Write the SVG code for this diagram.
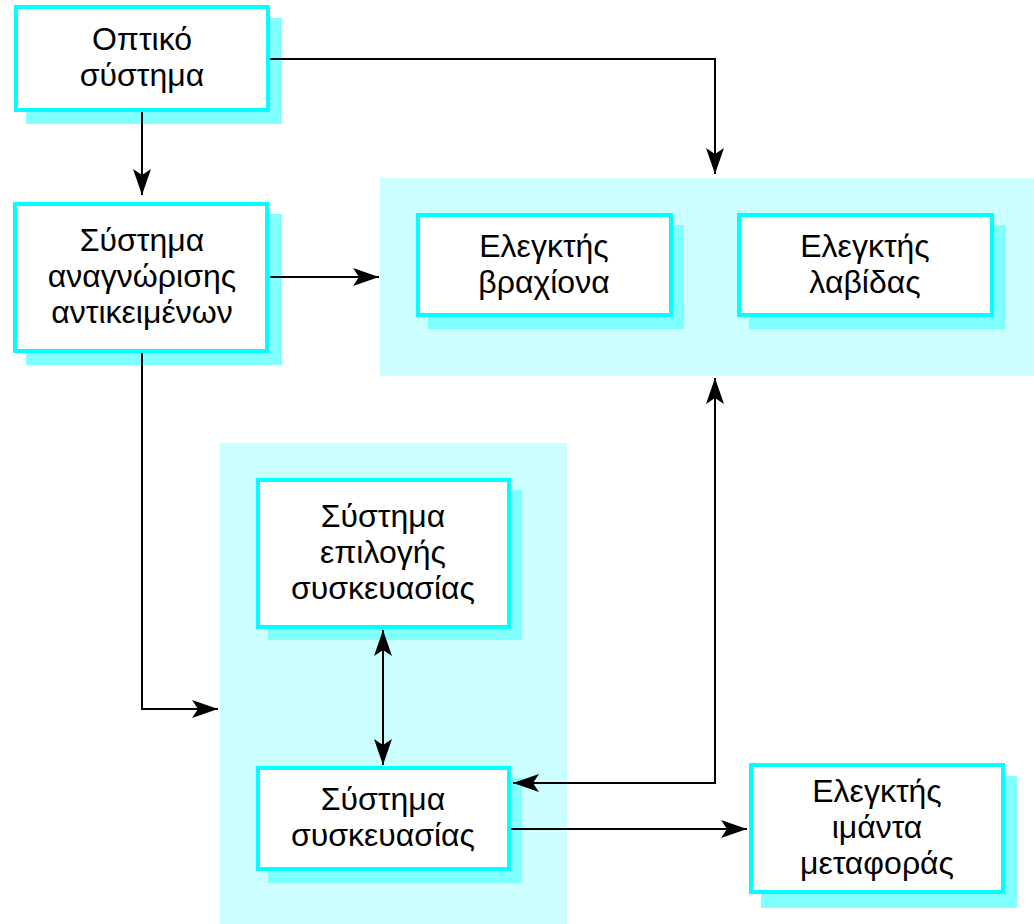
<svg xmlns="http://www.w3.org/2000/svg" width="1034" height="924" viewBox="0 0 1034 924">
<style>
.grp{fill:#CCFFFF;stroke:none}
.sh{fill:#80FFFF;stroke:none}
.bx{fill:#FFFFFF;stroke:#00FFFF;stroke-width:4}
.t{font-family:"Liberation Sans",Arial,sans-serif;font-size:32px;fill:#000;text-anchor:middle}
.c{fill:none;stroke:#000;stroke-width:2}
</style>
<defs>
<marker id="ah" markerUnits="userSpaceOnUse" markerWidth="27" markerHeight="18" refX="26" refY="9" orient="auto-start-reverse" viewBox="0 0 27 18">
<path d="M0,0 L26,9 L0,18 L6,9 z" fill="#000"/>
</marker>
</defs>
<rect class="grp" x="380" y="178" width="654" height="198"/>
<rect class="grp" x="220" y="443" width="347" height="481"/>

<g id="n-optiko">
<rect class="sh" x="26" y="18" width="256" height="106"/>
<rect class="bx" x="16" y="7" width="252" height="103"/>
<text class="t" x="142" y="50">Οπτικό</text>
<text class="t" x="142" y="86">σύστημα</text>
</g>

<g id="n-anagnorisi">
<rect class="sh" x="26" y="214" width="256" height="151"/>
<rect class="bx" x="15" y="204" width="252" height="147"/>
<text class="t" x="142" y="251">Σύστημα</text>
<text class="t" x="142" y="287">αναγνώρισης</text>
<text class="t" x="142" y="323">αντικειμένων</text>
</g>

<g id="n-vraxiona">
<rect class="sh" x="428" y="225" width="256" height="104"/>
<rect class="bx" x="418" y="215" width="253" height="100"/>
<text class="t" x="544" y="257">Ελεγκτής</text>
<text class="t" x="544" y="293">βραχίονα</text>
</g>

<g id="n-lavidas">
<rect class="sh" x="749" y="225" width="256" height="104"/>
<rect class="bx" x="739" y="215" width="253" height="100"/>
<text class="t" x="865" y="257">Ελεγκτής</text>
<text class="t" x="865" y="293">λαβίδας</text>
</g>

<g id="n-epilogi">
<rect class="sh" x="268" y="490" width="254" height="150"/>
<rect class="bx" x="258" y="480" width="251" height="147"/>
<text class="t" x="383" y="527">Σύστημα</text>
<text class="t" x="383" y="563">επιλογής</text>
<text class="t" x="383" y="599">συσκευασίας</text>
</g>

<g id="n-syskevasia">
<rect class="sh" x="268" y="778" width="254" height="105"/>
<rect class="bx" x="258" y="768" width="251" height="101"/>
<text class="t" x="383" y="810">Σύστημα</text>
<text class="t" x="383" y="846">συσκευασίας</text>
</g>

<g id="n-imanta">
<rect class="sh" x="761" y="776" width="256" height="132"/>
<rect class="bx" x="751" y="765" width="252" height="127"/>
<text class="t" x="877" y="802">Ελεγκτής</text>
<text class="t" x="877" y="838">ιμάντα</text>
<text class="t" x="877" y="874">μεταφοράς</text>
</g>

<g id="connectors">
<path class="c" d="M142,112 V195" marker-end="url(#ah)"/>
<path class="c" d="M270,59 H715 V174" marker-end="url(#ah)"/>
<path class="c" d="M270,277 H379" marker-end="url(#ah)"/>
<path class="c" d="M142,353 V709 H218" marker-end="url(#ah)"/>
<path class="c" d="M383,630 V765" marker-start="url(#ah)" marker-end="url(#ah)"/>
<path class="c" d="M513,783 H715 V378" marker-start="url(#ah)" marker-end="url(#ah)"/>
<path class="c" d="M511,829 H747" marker-end="url(#ah)"/>
</g>
</svg>
